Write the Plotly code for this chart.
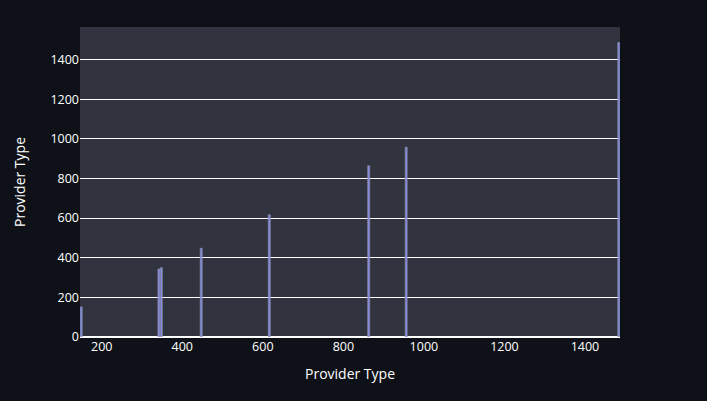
import plotly.graph_objects as go

provider_x = [149, 342, 348, 447, 616, 863, 956, 1484]
provider_y = [152, 343, 350, 448, 617, 864, 958, 1486]

fig = go.Figure(
    go.Bar(
        x=provider_x,
        y=provider_y,
        marker=dict(color="#8e96ff", opacity=0.9, line=dict(color="#8d8f9e", width=0.7)),
    )
)

fig.update_layout(
    width=707,
    height=401,
    paper_bgcolor="#0e1117",
    plot_bgcolor="#31333f",
    margin=dict(l=80, r=87, t=27, b=64),
    font=dict(family="Open Sans, sans-serif", color="#ffffff", size=12),
    showlegend=False,
    bargap=0.15,
)
fig.update_xaxes(
    title=dict(text="Provider Type", font=dict(size=14)),
    showgrid=False,
    zeroline=False,
    tickfont=dict(size=12.5),
)
fig.update_yaxes(
    title=dict(text="Provider Type", font=dict(size=14), standoff=21),
    showgrid=True,
    gridcolor="#ffffff",
    gridwidth=1,
    zeroline=True,
    zerolinecolor="#ffffff",
    zerolinewidth=2,
    tickfont=dict(size=12.5),
)

fig.write_html("out.html")
